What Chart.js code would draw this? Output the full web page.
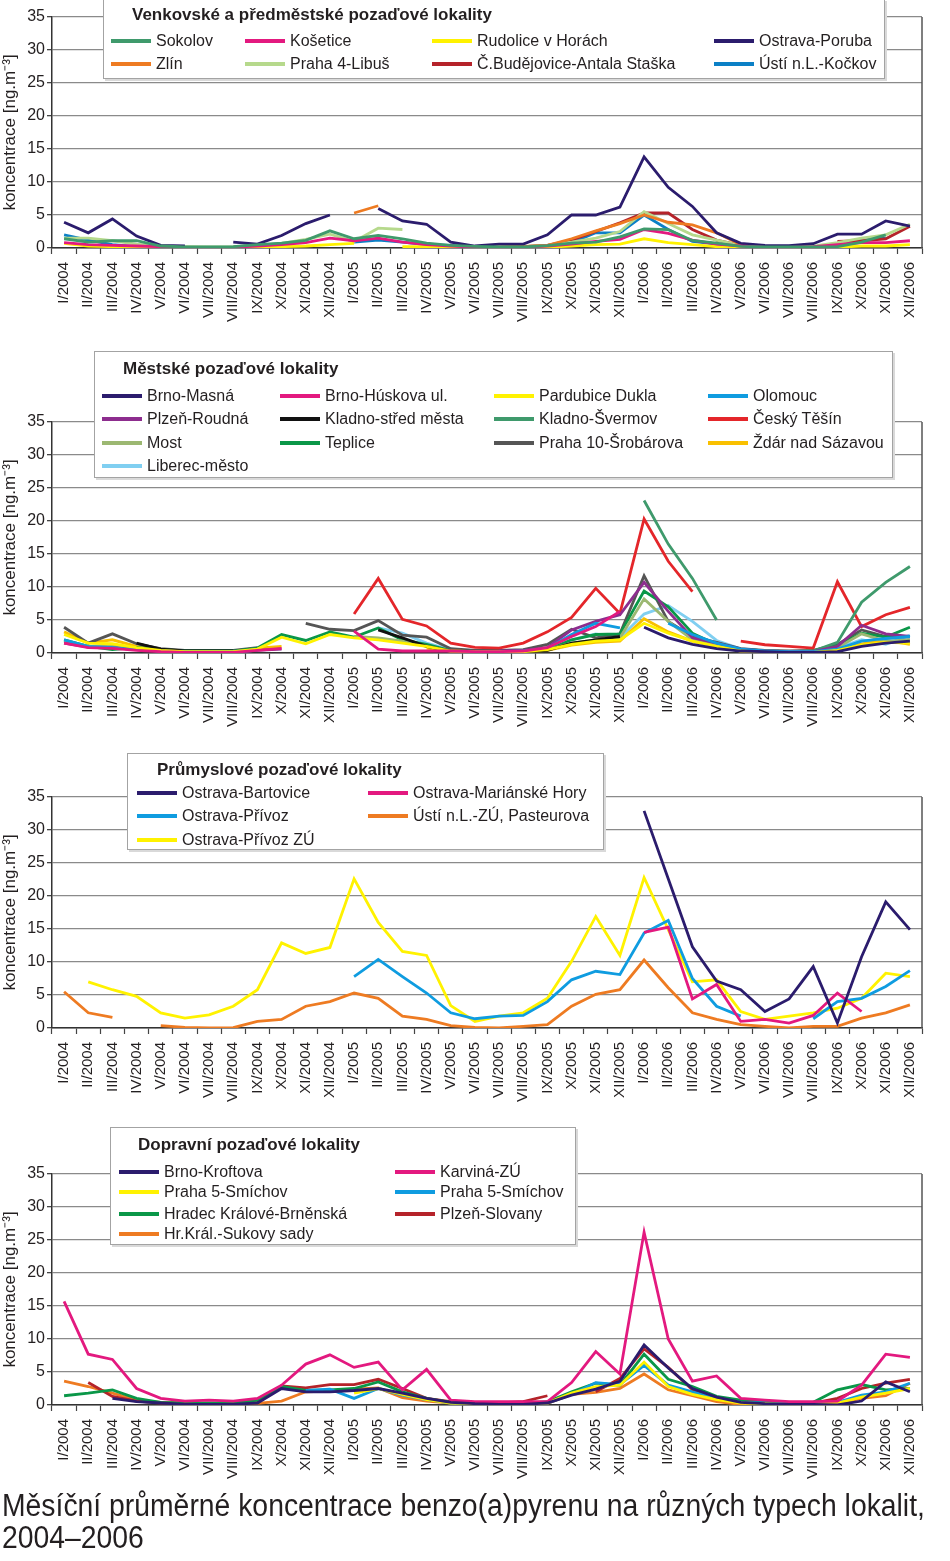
<!DOCTYPE html>
<html lang="cs">
<head>
<meta charset="UTF-8">
<title>Měsíční průměrné koncentrace benzo(a)pyrenu</title>
<script src="https://cdn.jsdelivr.net/npm/chart.js"></script>
<style>
  body { margin: 0; width: 950px; height: 1561px; position: relative; background: #fff; overflow: hidden;
         font-family: "Liberation Sans", Arial, sans-serif; color: #231f20; }
  .panel { position: absolute; left: 0; }
  .legend { position: absolute; background: #fff; border: 1.5px solid #a3a3a3; box-sizing: border-box;
            box-shadow: 2px 2px 0 #d9d9d9; }
  .legend .title { position: absolute; font-weight: bold; font-size: 17px; line-height: 20px; white-space: nowrap; }
  .legend .item { position: absolute; font-size: 16px; line-height: 20px; white-space: nowrap; }
  .legend .item i { position: absolute; left: 0; top: 8px; width: 40px; height: 4px; }
  .legend .item span { position: absolute; left: 45px; top: 0; }
  #caption { position: absolute; left: 2px; top: 1490px; font-family: "Liberation Sans", Arial, sans-serif;
             font-size: 31px; line-height: 32px; white-space: nowrap; transform-origin: 0 0; }
  #caption span { display: inline-block; }
</style>
</head>
<body>
<canvas id="c1" class="panel" width="950" height="335" style="top:0px"></canvas>
<canvas id="c2" class="panel" width="950" height="410" style="top:335px"></canvas>
<canvas id="c3" class="panel" width="950" height="370" style="top:745px"></canvas>
<canvas id="c4" class="panel" width="950" height="375" style="top:1115px"></canvas>
<div id="caption"><span id="capLine">Měsíční průměrné koncentrace benzo(a)pyrenu na různých typech lokalit,</span><br>2004–2006</div>
<script>
// měsíce I/2004 .. XII/2006
const months = ['I/2004', 'II/2004', 'III/2004', 'IV/2004', 'V/2004', 'VI/2004', 'VII/2004', 'VIII/2004', 'IX/2004', 'X/2004', 'XI/2004', 'XII/2004',
                'I/2005', 'II/2005', 'III/2005', 'IV/2005', 'V/2005', 'VI/2005', 'VII/2005', 'VIII/2005', 'IX/2005', 'X/2005', 'XI/2005', 'XII/2005',
                'I/2006', 'II/2006', 'III/2006', 'IV/2006', 'V/2006', 'VI/2006', 'VII/2006', 'VIII/2006', 'IX/2006', 'X/2006', 'XI/2006', 'XII/2006'];
const N = null;

// --- Venkovské a předměstské pozaďové lokality ---
const sokolov    = [1.4, 0.9, 1.1, 1.1, 0.3, 0.15, 0.15, 0.2, 0.5, 0.75, 1.15, 2.6, 1.4, 1.9, 1.4, 0.75, 0.4, 0.25, 0.15, 0.15, 0.35, 0.75, 0.9, 1.7, 2.9, 2.8, 1.15, 0.75, 0.25, 0.15, 0.15, 0.15, 0.2, 0.9, 2.0, N];
const kosetice   = [0.8, 0.5, 0.4, 0.3, 0.2, 0.1, 0.1, 0.1, 0.3, 0.5, 0.8, 1.5, 1.1, 1.5, 0.9, 0.5, 0.3, 0.1, 0.1, 0.1, 0.3, 0.6, 1.0, 1.3, 2.8, 2.2, 1.2, 0.6, 0.3, 0.1, 0.1, 0.2, 0.5, 0.8, 0.8, 1.1];
const rudolice   = [0.7, 0.3, 0.2, 0.1, 0.1, 0.05, 0.05, 0.05, 0.1, 0.2, 0.3, 0.5, 0.7, N, 0.2, 0.2, 0.1, 0.05, 0.05, 0.05, 0.1, 0.3, 0.5, 0.6, 1.4, 0.8, 0.5, 0.2, 0.1, 0.05, 0.05, 0.05, 0.1, 0.3, 0.3, 0.5];
const poruba     = [3.9, 2.3, 4.4, 1.8, 0.4, 0.3, N, 0.9, 0.6, 1.9, 3.7, 5.0, N, 6.0, 4.1, 3.6, 0.9, 0.3, 0.6, 0.6, 2.0, 5.0, 5.0, 6.2, 13.8, 9.2, 6.3, 2.3, 0.7, 0.4, 0.35, 0.65, 2.1, 2.1, 4.1, 3.3];
const zlin       = [N, N, N, N, N, N, N, N, N, N, N, N, 5.3, 6.4, N, N, N, 0.1, 0.15, 0.25, 0.4, 1.4, 2.6, 3.7, 5.0, 3.9, 3.5, 2.3, 0.5, N, N, N, N, N, N, N];
const libus      = [1.5, 1.5, 1.1, 0.6, 0.3, 0.2, 0.15, 0.2, 0.4, 0.7, 1.3, 2.1, 1.0, 3.0, 2.8, N, N, N, 0.1, 0.2, 0.4, 0.9, 1.5, 2.5, 5.5, 3.7, 2.0, 1.2, 0.4, 0.2, 0.2, 0.3, 0.8, 1.5, 2.0, 3.6];
const budejovice = [N, N, N, N, N, N, N, N, N, N, N, N, N, N, N, N, N, N, 0.1, 0.2, 0.4, 1.2, 2.5, 3.8, 5.3, 5.3, 2.8, 1.2, 0.4, N, N, N, 1.0, 1.1, 1.4, 3.3];
const kockov     = [2.0, 1.2, 0.5, 0.2, 0.2, 0.1, 0.1, 0.1, N, N, N, N, 0.9, 1.2, 0.9, 0.5, 0.4, 0.2, 0.1, 0.2, 0.4, 0.8, 2.3, 2.3, 5.0, 2.8, 1.0, 0.6, 0.3, 0.2, 0.2, 0.2, 0.1, 1.4, 1.5, N];
const names1 = ['Sokolov', 'Košetice', 'Rudolice v Horách', 'Ostrava-Poruba', 'Zlín', 'Praha 4-Libuš', 'Č.Budějovice-Antala Staška', 'Ústí n.L.-Kočkov'];
const series1 = [sokolov, kosetice, rudolice, poruba, zlin, libus, budejovice, kockov];

// --- Městské pozaďové lokality ---
const masna      = [N, N, N, N, N, N, N, N, N, N, N, N, N, N, N, N, N, N, N, N, N, N, N, N, 3.9, 2.3, 1.3, 0.65, 0.3, 0.2, 0.1, 0.1, 0.2, 1.0, 1.5, 1.8];
const huskova    = [1.5, 0.8, 0.7, 0.4, 0.2, 0.1, 0.1, 0.1, 0.4, 0.7, N, N, 3.3, 0.6, 0.3, 0.3, 0.3, 0.2, 0.2, 0.3, 0.8, 2.5, 4.0, 6.3, N, N, N, N, N, N, N, N, N, N, N, N];
const pardubice  = [2.8, 1.5, 1.4, 0.8, 0.4, 0.2, 0.2, 0.2, 0.6, 2.4, 1.4, 2.8, 2.3, 2.0, 1.5, 1.0, 0.3, 0.2, 0.2, 0.2, 0.5, 1.3, 1.8, 2.0, 4.5, 3.0, 1.8, 1.0, 0.3, 0.1, 0.1, 0.1, 0.4, 1.2, 1.6, 1.5];
const olomouc    = [2.0, 1.0, 0.8, 0.5, 0.3, 0.2, 0.2, 0.2, 0.4, N, N, N, N, N, N, N, N, 0.2, 0.2, 0.3, 0.7, 2.8, 4.5, 3.8, N, 4.5, 2.8, 1.5, 0.6, 0.3, 0.2, 0.2, 0.6, 1.8, 2.2, 2.5];
const roudna     = [1.5, 0.9, 0.8, 0.5, 0.3, 0.2, 0.2, 0.2, 0.4, 0.6, N, N, N, N, N, N, N, N, 0.3, 0.4, 0.8, 3.5, 4.8, 5.8, 10.7, 6.3, 2.3, 1.5, 0.6, 0.3, 0.2, 0.2, 1.0, 4.2, 2.9, 2.5];
const kladnoStred= [N, N, N, 1.5, 0.6, 0.3, 0.3, 0.3, N, N, N, N, N, 3.5, 2.3, 1.0, 0.3, 0.2, 0.2, 0.2, 0.4, 1.5, 2.0, 2.5, N, N, N, N, N, N, N, N, N, N, N, N];
const svermov    = [N, N, N, N, N, N, N, N, N, N, N, N, N, N, N, N, N, N, N, N, N, N, N, N, 23.1, 16.5, 11.3, 5.0, N, N, N, 0.3, 1.6, 7.7, 10.7, 13.1];
const tesin      = [N, N, N, N, N, N, N, N, N, N, N, N, 5.9, 11.3, 5.1, 4.1, 1.5, 0.85, 0.75, 1.5, 3.2, 5.4, 9.8, 6.0, 20.3, 13.9, 9.3, N, 1.8, 1.25, 1.0, 0.75, 10.8, 4.0, 5.8, 6.9];
const most       = [1.8, 1.0, 1.2, 0.6, 0.3, 0.2, 0.2, 0.2, 0.5, N, N, N, 2.5, 2.3, 1.8, 1.0, 0.3, 0.2, 0.2, 0.2, 0.5, 1.5, 2.0, 2.3, 8.2, 4.8, 2.0, 1.2, 0.4, 0.2, 0.2, 0.2, 0.8, 2.9, 1.8, 2.0];
const teplice    = [2.0, 1.0, 0.5, 0.85, 0.5, 0.3, 0.3, 0.3, 0.75, 2.8, 1.9, 3.2, 2.4, 3.8, 2.0, 1.3, 0.35, 0.0, 0.1, 0.3, 0.5, 2.0, 2.8, 2.9, 9.4, 7.0, 3.0, 1.3, 0.6, 0.3, 0.2, 0.3, 1.1, 3.0, 2.4, 3.9];
const praha10    = [3.9, 1.5, 2.9, 1.4, 0.65, 0.4, 0.4, 0.4, 0.8, N, 4.5, 3.6, 3.4, 4.9, 2.7, 2.4, 0.65, 0.4, 0.4, 0.5, 1.3, 3.6, 2.3, 2.9, 11.7, 4.8, 2.5, 1.6, 0.65, 0.4, 0.3, 0.4, 1.3, 3.5, 2.5, 2.4];
const zdar       = [3.2, 1.5, 2.0, 1.0, 0.5, 0.3, 0.2, 0.2, 0.75, 1.0, N, N, N, N, N, 0.75, 0.3, 0.2, 0.2, 0.2, 0.4, 1.2, 1.6, 1.8, 5.2, 3.2, 1.8, 1.0, 0.3, 0.1, 0.1, 0.1, 0.5, 1.4, 1.9, 1.3];
const liberec    = [N, N, N, N, N, N, N, N, N, N, N, N, N, 3.8, 3.0, 1.5, 0.5, 0.4, 0.3, 0.4, 0.6, 2.0, 2.9, 2.3, 5.9, 7.2, 4.8, 1.9, 0.65, 0.3, 0.15, 0.2, 0.75, 2.0, 1.3, 2.7];
const names2 = ['Brno-Masná', 'Brno-Húskova ul.', 'Pardubice Dukla', 'Olomouc', 'Plzeň-Roudná', 'Kladno-střed města', 'Kladno-Švermov', 'Český Těšín',
                'Most', 'Teplice', 'Praha 10-Šrobárova', 'Ždár nad Sázavou', 'Liberec-město'];
const series2 = [masna, huskova, pardubice, olomouc, roudna, kladnoStred, svermov, tesin, most, teplice, praha10, zdar, liberec];

// --- Průmyslové pozaďové lokality ---
const bartovice  = [N, N, N, N, N, N, N, N, N, N, N, N, N, N, N, N, N, N, N, N, N, N, N, N, 32.9, 22.6, 12.3, 7.1, 5.8, 2.5, 4.4, 9.3, 0.75, 10.8, 19.1, 14.9];
const marianske  = [N, N, N, N, N, N, N, N, N, N, N, N, N, N, N, N, N, N, N, N, N, N, N, N, 14.5, 15.3, 4.4, 6.6, 1.0, 1.3, 0.75, 1.9, 5.3, 2.5, N, N];
const privoz     = [N, N, N, N, N, N, N, N, N, N, N, N, 7.8, 10.4, 7.8, 5.3, 2.3, 1.4, 1.8, 1.9, 4.0, 7.3, 8.6, 8.1, 14.4, 16.3, 7.5, 3.3, 1.8, N, N, 1.4, 4.0, 4.5, 6.3, 8.7];
const ustiZu     = [5.5, 2.3, 1.6, N, 0.35, 0.1, 0.0, 0.05, 1.0, 1.3, 3.3, 4.0, 5.3, 4.5, 1.8, 1.3, 0.35, 0.1, 0.0, 0.25, 0.5, 3.3, 5.1, 5.8, 10.3, 6.1, 2.3, 1.3, 0.5, 0.25, 0.0, 0.25, 0.25, 1.5, 2.3, 3.5];
const privozZu   = [N, 7.0, 5.8, 4.8, 2.3, 1.5, 2.0, 3.3, 5.8, 12.9, 11.3, 12.2, 22.6, 16.0, 11.6, 11.0, 3.4, 1.0, 1.8, 2.3, 4.5, 10.1, 16.9, 11.0, 22.8, 14.9, 7.0, 7.3, 2.5, 1.3, 1.8, 2.3, 3.0, 4.5, 8.3, 7.8];
const names3 = ['Ostrava-Bartovice', 'Ostrava-Mariánské Hory', 'Ostrava-Přívoz', 'Ústí n.L.-ZÚ, Pasteurova', 'Ostrava-Přívoz ZÚ'];
const series3 = [bartovice, marianske, privoz, ustiZu, privozZu];

// --- Dopravní pozaďové lokality ---
const kroftova   = [N, N, 1.0, 0.5, 0.3, 0.1, 0.1, 0.1, 0.3, 2.5, 2.0, 2.0, 2.2, 2.5, 1.8, 1.0, 0.4, 0.2, 0.1, 0.1, 0.3, 1.5, 2.4, 3.6, 9.1, 5.6, 2.5, 1.2, 0.4, 0.2, 0.1, 0.1, 0.0, 0.6, 3.5, 2.0];
const karvina    = [15.7, 7.7, 6.9, 2.5, 1.0, 0.6, 0.75, 0.6, 1.0, 3.0, 6.2, 7.6, 5.7, 6.5, 2.3, 5.4, 0.75, 0.5, 0.5, 0.5, 0.5, 3.4, 8.1, 4.7, 26.2, 10.0, 3.6, 4.4, 1.0, 0.75, 0.5, 0.5, 0.6, 3.0, 7.7, 7.2];
const smichovA   = [N, N, N, N, N, N, N, N, N, N, N, N, 1.8, 2.5, 1.6, 0.8, 0.3, 0.2, 0.1, 0.1, 0.3, 1.8, 2.8, 3.0, 6.5, 2.8, 1.6, 0.8, 0.3, 0.2, 0.1, 0.1, 0.3, 1.2, 1.8, 2.5];
const smichovB   = [N, N, N, N, N, N, N, N, N, N, 2.2, 2.4, 1.0, 2.5, 1.5, 0.8, 0.3, 0.2, 0.1, 0.1, 0.3, 1.6, 3.4, 3.1, 6.0, 3.0, 2.0, 1.0, 0.4, 0.3, 0.2, 0.2, 0.4, 1.5, 2.0, 3.3];
const hradec     = [1.4, 1.8, 2.3, 1.0, 0.4, 0.3, 0.3, 0.3, 0.75, 2.8, 2.2, 2.3, 2.5, 3.5, 2.0, 1.0, 0.4, 0.2, 0.2, 0.2, 0.5, 2.0, 3.3, 3.0, 7.7, 3.9, 2.8, 1.3, 0.75, 0.5, 0.4, 0.4, 2.3, 3.1, 2.3, 2.5];
const slovany    = [N, 3.4, 1.3, 0.6, 0.3, 0.2, 0.2, 0.2, 0.4, 2.9, 2.6, 3.1, 3.1, 3.9, 2.5, 1.0, 0.5, 0.3, 0.3, 0.5, 1.4, N, 2.0, 4.0, 8.5, 5.7, 2.3, 1.0, 0.5, 0.3, 0.3, 0.3, 1.0, 2.5, 3.3, 3.9];
const sukovy     = [3.6, 2.8, 1.8, 0.75, 0.4, 0.3, 0.2, 0.2, 0.25, 0.6, 2.0, 2.1, 2.4, 2.6, 1.1, 0.6, 0.3, 0.1, 0.1, 0.1, 0.25, 1.6, 1.9, 2.5, 4.7, 2.3, 1.4, 0.5, 0.1, 0.1, 0.1, 0.1, 0.25, 1.0, 1.4, 3.3];
const names4 = ['Brno-Kroftova', 'Karviná-ZÚ', 'Praha 5-Smíchov', 'Praha 5-Smíchov', 'Hradec Králové-Brněnská', 'Plzeň-Slovany', 'Hr.Král.-Sukovy sady'];
const series4 = [kroftova, karvina, smichovA, smichovB, hradec, slovany, sukovy];

// barvy
const NAVY = '#2b1c6d', MAGENTA = '#e3197f', YELLOW = '#fff200', SEA = '#3f9a6c', ORANGE = '#ee7b22', LIGHTGREEN = '#b6d98c',
      DARKRED = '#b5232a', BLUE = '#0b80c6', SKY = '#0f9ce0', PURPLE = '#8d2d8e', BLACK = '#111111', RED = '#e4262a',
      OLIVE = '#9cb872', GREEN = '#0a9748', GREY = '#555555', GOLD = '#f9c000', LIGHTBLUE = '#80cff1';
const colors1 = [SEA, MAGENTA, YELLOW, NAVY, ORANGE, LIGHTGREEN, DARKRED, BLUE];
const colors2 = [NAVY, MAGENTA, YELLOW, SKY, PURPLE, BLACK, SEA, RED, OLIVE, GREEN, GREY, GOLD, LIGHTBLUE];
const colors3 = [NAVY, MAGENTA, SKY, ORANGE, YELLOW];
const colors4 = [NAVY, MAGENTA, YELLOW, SKY, GREEN, DARKRED, ORANGE];

Chart.defaults.font.family = '"Liberation Sans", Arial, sans-serif';
Chart.defaults.color = '#231f20';

// pravý okraj grafu
const frame = {
  id: 'frame',
  afterDraw(chart) {
    const a = chart.chartArea, ctx = chart.ctx;
    ctx.save();
    ctx.strokeStyle = '#555';
    ctx.lineWidth = 1.5;
    ctx.beginPath();
    ctx.moveTo(a.right, a.top);
    ctx.lineTo(a.right, a.bottom);
    ctx.stroke();
    ctx.restore();
  }
};

function makeChart(id, names, colors, series, plotTop, plotBottom) {
  const canvas = document.getElementById(id);
  const h = canvas.height;
  return new Chart(canvas, {
    type: 'line',
    data: {
      labels: months,
      datasets: series.map((d, i) => ({
        label: names[i], data: d, borderColor: colors[i], backgroundColor: colors[i],
        borderWidth: 2.8, pointRadius: 0, tension: 0, spanGaps: false, fill: false
      }))
    },
    options: {
      responsive: false, animation: false, devicePixelRatio: 1,
      layout: { padding: { top: plotTop, right: 28, bottom: 0, left: 0 } },
      plugins: { legend: { display: false }, tooltip: { enabled: false } },
      scales: {
        x: {
          offset: true,
          grid: { offset: true, drawOnChartArea: false, tickLength: 6, tickColor: '#444', tickWidth: 1.2 },
          border: { color: '#333', width: 1.5 },
          ticks: { autoSkip: false, minRotation: 90, maxRotation: 90, padding: 8, font: { size: 15 } },
          afterFit: s => { s.height = h - plotBottom; }
        },
        y: {
          min: 0, max: 35,
          ticks: { stepSize: 5, padding: 2, font: { size: 16 } },
          grid: { color: '#8a8a8a', lineWidth: 1.3, tickLength: 5, tickColor: '#444' },
          border: { color: '#333', width: 1.5 },
          title: { display: true, text: 'koncentrace [ng.m⁻³]', font: { size: 17 }, padding: 0 },
          afterFit: s => { s.width = 52; }
        }
      }
    },
    plugins: [frame]
  });
}

// legenda jako rámeček přes graf
function makeLegend(box, title, cols, rows, names, colors) {
  const el = document.createElement('div');
  el.className = 'legend';
  el.style.left = box[0] + 'px';
  el.style.top = box[1] + 'px';
  el.style.width = (box[2] - box[0]) + 'px';
  el.style.height = (box[3] - box[1]) + 'px';
  const t = document.createElement('div');
  t.className = 'title';
  t.textContent = title[0];
  t.style.left = (title[1] - box[0]) + 'px';
  t.style.top = (title[2] - 10 - box[1]) + 'px';
  el.appendChild(t);
  names.forEach((name, i) => {
    const it = document.createElement('div');
    it.className = 'item';
    it.style.left = (cols[i % cols.length] - box[0]) + 'px';
    it.style.top = (rows[Math.floor(i / cols.length)] - 10 - box[1]) + 'px';
    const line = document.createElement('i');
    line.style.background = colors[i];
    const txt = document.createElement('span');
    txt.textContent = name;
    it.appendChild(line);
    it.appendChild(txt);
    el.appendChild(it);
  });
  document.body.appendChild(el);
}

makeChart('c1', names1, colors1, series1, 17, 248);
makeChart('c2', names2, colors2, series2, 87, 318);
makeChart('c3', names3, colors3, series3, 52, 283);
makeChart('c4', names4, colors4, series4, 59, 290);

makeLegend([103, -1, 885, 79], ['Venkovské a předměstské pozaďové lokality', 131, 14], [110, 244, 431, 713], [40, 63], names1, colors1);
makeLegend([94, 351, 893, 478], ['Městské pozaďové lokality', 122, 368], [101, 279, 493, 707], [395, 418, 442, 465], names2, colors2);
makeLegend([127, 753, 604, 850], ['Průmyslové pozaďové lokality', 156, 769], [136, 367], [792, 815, 839], names3, colors3);
makeLegend([110, 1127, 576, 1245], ['Dopravní pozaďové lokality', 137, 1144], [118, 394], [1171, 1191, 1213, 1233], names4, colors4);

// popisek: zúžené písmo jako v předloze (první řádek na šířku ~923 px)
const capW = document.getElementById('capLine').getBoundingClientRect().width;
document.getElementById('caption').style.transform = 'scaleX(' + Math.min(1, 923 / capW).toFixed(3) + ')';
</script>
</body>
</html>
